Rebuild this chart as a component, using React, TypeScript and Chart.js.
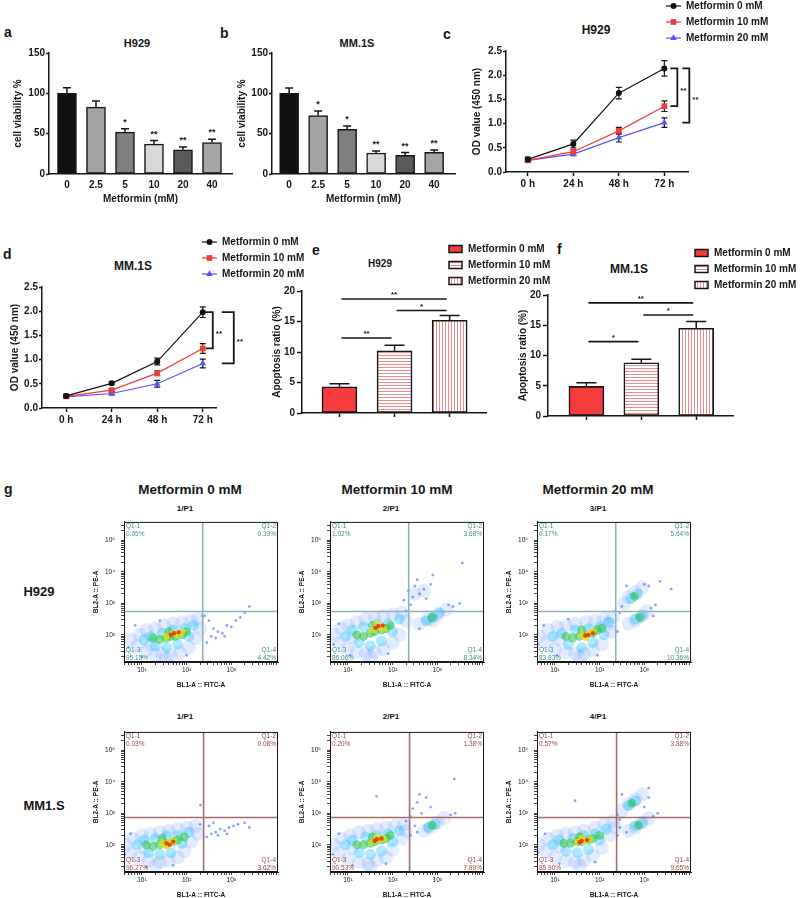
import { useEffect, useRef } from 'react'
import { Chart, registerables } from 'chart.js'

Chart.register(...registerables)

const FONT = '"Liberation Sans", Arial, Helvetica, sans-serif'
const INK = '#161616'
Chart.defaults.font.family = FONT
Chart.defaults.color = INK

type Pt = [number, number]

// ---------- a, b: cell viability ----------
const doses = ['0', '2.5', '5', '10', '20', '40']
const viabilityH929 = [100, 83, 52, 37, 30, 39]
const viabilityH929Err = [7, 7.5, 4, 4.5, 3.5, 4]
const viabilityH929Sig = ['', '', '*', '**', '**', '**']
const viabilityMM1S = [100, 72.5, 55.5, 26, 23, 27]
const viabilityMM1SErr = [6.5, 5.5, 4, 2.5, 3.5, 2.7]
const viabilityMM1SSig = ['', '*', '*', '**', '**', '**']

// ---------- c, d: OD450 growth ----------
const hours = ['0 h', '24 h', '48 h', '72 h']
const groups = ['Metformin 0 mM', 'Metformin 10 mM', 'Metformin 20 mM']
const odH929_0 = [0.26, 0.58, 1.63, 2.14]
const odH929_10 = [0.24, 0.42, 0.85, 1.36]
const odH929_20 = [0.24, 0.37, 0.71, 1.02]
const odH929_0Err = [0.05, 0.08, 0.12, 0.16]
const odH929_10Err = [0.04, 0.04, 0.07, 0.11]
const odH929_20Err = [0.04, 0.03, 0.09, 0.1]
const odMM1S_0 = [0.25, 0.51, 0.96, 1.98]
const odMM1S_10 = [0.24, 0.37, 0.72, 1.23]
const odMM1S_20 = [0.23, 0.3, 0.5, 0.92]
const odMM1S_0Err = [0.03, 0.03, 0.07, 0.11]
const odMM1S_10Err = [0.03, 0.03, 0.05, 0.1]
const odMM1S_20Err = [0.03, 0.03, 0.07, 0.09]
const growthSig: [number, number, string][] = [[0, 1, '**'], [0, 2, '**']]

// ---------- e, f: apoptosis ratio ----------
const apoptosisH929 = [4.3, 10.2, 15.2]
const apoptosisH929Err = [0.5, 0.9, 0.8]
const apoptosisH929Sig: [number, number, number, string][] = [[0, 1, 12.3, '**'], [1, 2, 16.8, '*'], [0, 2, 18.7, '**']]
const apoptosisMM1S = [4.9, 8.8, 14.5]
const apoptosisMM1SErr = [0.6, 0.6, 1.1]
const apoptosisMM1SSig: [number, number, number, string][] = [[0, 1, 12.3, '*'], [1, 2, 16.7, '*'], [0, 2, 18.7, '**']]

// ---------- g: Annexin V-FITC / PI flow cytometry (log10 units) ----------
const flowColumnTitles = ['Metformin 0 mM', 'Metformin 10 mM', 'Metformin 20 mM']
const flowRowLabels = ['H929', 'MM1.S']
const h929Samples = ['1/P1', '2/P1', '3/P1']
const mm1sSamples = ['1/P1', '2/P1', '4/P1']
const quadNames = ['Q1-1', 'Q1-2', 'Q1-3', 'Q1-4']
const h929Quad0 = ['0.05%', '0.39%', '95.15%', '4.42%']
const h929Quad10 = ['1.92%', '3.68%', '86.06%', '8.34%']
const h929Quad20 = ['0.17%', '5.64%', '83.83%', '10.36%']
const mm1sQuad0 = ['0.03%', '0.08%', '96.27%', '3.62%']
const mm1sQuad10 = ['0.20%', '1.38%', '90.53%', '7.89%']
const mm1sQuad20 = ['0.57%', '3.88%', '85.90%', '9.65%']
const h929Gate = [2.36, 2.74]
const mm1sGate = [2.38, 2.87]
const fitcDecades = [1, 2, 3]
const peDecades = [2, 3, 4, 5]

const h929_0_halo: Pt[] = [[0.75, 1.85], [0.9, 1.65], [0.95, 2.0], [1.1, 1.5], [1.1, 2.15], [1.3, 1.35], [1.3, 2.2], [1.45, 1.4], [1.5, 2.3], [1.65, 1.35], [1.7, 2.35], [1.85, 1.45], [1.9, 2.4], [2.05, 1.6], [2.1, 2.45], [2.2, 1.9], [2.25, 2.5], [2.3, 2.2], [1.55, 1.25], [1.2, 1.7]]
const h929_0_cyan: Pt[] = [[1.05, 1.85], [1.2, 1.95], [1.3, 1.65], [1.45, 2.05], [1.55, 1.6], [1.7, 2.15], [1.8, 1.7], [1.95, 2.2], [2.05, 1.95], [2.15, 2.3]]
const h929_0_green: Pt[] = [[1.25, 1.9], [1.4, 1.85], [1.55, 1.9], [1.65, 1.95], [1.75, 1.95], [1.9, 2.0], [1.6, 2.1], [2.0, 2.1]]
const h929_0_yellow: Pt[] = [[1.55, 1.95], [1.7, 2.05], [1.8, 2.0], [1.9, 2.1]]
const h929_0_red: Pt[] = [[1.72, 2.05], [1.82, 2.08], [1.65, 2.0]]
const h929_0_sparse: Pt[] = [[2.45, 1.75], [2.55, 1.95], [2.65, 1.9], [2.7, 2.1], [2.8, 2.05], [2.9, 2.3], [3.0, 2.25], [3.1, 2.45], [3.2, 2.55], [3.3, 2.7], [2.6, 2.2], [2.85, 1.95], [3.4, 2.9], [2.4, 2.6], [2.5, 2.45], [0.7, 1.6], [0.85, 2.3], [1.0, 1.3], [1.4, 2.45], [2.0, 1.35], [2.35, 2.6]]

const h929_10_halo: Pt[] = [[0.7, 2.0], [0.8, 1.75], [0.85, 2.2], [1.0, 1.55], [1.0, 2.3], [1.2, 1.45], [1.2, 2.4], [1.4, 1.4], [1.4, 2.5], [1.6, 1.45], [1.6, 2.55], [1.8, 1.55], [1.8, 2.6], [2.0, 1.75], [2.0, 2.65], [2.15, 2.0], [2.2, 2.7], [2.3, 2.45], [1.1, 1.9], [1.5, 1.3], [2.6, 2.35], [2.8, 2.5], [3.0, 2.65], [3.2, 2.8], [2.9, 2.45], [2.5, 3.3], [2.7, 3.4]]
const h929_10_cyan: Pt[] = [[0.95, 1.95], [1.1, 2.15], [1.25, 1.75], [1.35, 2.25], [1.5, 1.65], [1.65, 2.35], [1.75, 1.8], [1.9, 2.35], [2.0, 2.1], [2.15, 2.5], [2.75, 2.45], [2.9, 2.55], [3.05, 2.7]]
const h929_10_green: Pt[] = [[1.2, 2.0], [1.35, 1.95], [1.5, 2.05], [1.6, 2.1], [1.75, 2.15], [1.85, 2.2], [1.55, 2.3], [1.95, 2.3], [2.88, 2.55]]
const h929_10_yellow: Pt[] = [[1.55, 2.15], [1.7, 2.25], [1.8, 2.2], [1.65, 2.35]]
const h929_10_red: Pt[] = [[1.68, 2.28], [1.78, 2.3], [1.62, 2.22]]
const h929_10_sparse: Pt[] = [[2.25, 3.1], [2.35, 3.4], [2.45, 3.2], [2.5, 3.55], [2.6, 3.3], [2.7, 3.45], [2.75, 3.15], [2.85, 3.6], [2.9, 3.9], [2.55, 3.75], [2.4, 2.95], [3.35, 2.9], [3.5, 3.0], [3.56, 4.28], [2.6, 2.2], [3.25, 2.95], [0.68, 1.7], [0.8, 2.35], [1.05, 1.35], [1.9, 1.4], [2.3, 2.75]]

const h929_20_halo: Pt[] = [[0.65, 1.95], [0.8, 1.75], [0.85, 2.15], [1.0, 1.55], [1.05, 2.25], [1.25, 1.45], [1.25, 2.3], [1.45, 1.4], [1.45, 2.35], [1.65, 1.4], [1.7, 2.4], [1.85, 1.5], [1.9, 2.45], [2.05, 1.7], [2.1, 2.5], [2.25, 2.1], [2.3, 2.55], [1.1, 1.85], [1.55, 1.3], [2.2, 2.35], [2.65, 2.35], [2.8, 2.45], [2.95, 2.6], [3.05, 2.75], [2.55, 3.0], [2.65, 3.2], [2.8, 3.35], [2.95, 3.5]]
const h929_20_cyan: Pt[] = [[0.95, 1.95], [1.15, 2.05], [1.3, 1.7], [1.45, 2.15], [1.6, 1.6], [1.75, 2.2], [1.85, 1.75], [2.0, 2.25], [2.1, 2.0], [2.2, 2.4], [2.8, 2.5], [2.95, 2.6], [2.7, 3.15], [2.85, 3.3]]
const h929_20_green: Pt[] = [[1.25, 1.95], [1.4, 1.9], [1.55, 1.95], [1.7, 2.0], [1.85, 2.05], [1.95, 2.15], [1.6, 2.15], [2.05, 2.2], [2.9, 2.55], [2.78, 3.22]]
const h929_20_yellow: Pt[] = [[1.6, 2.0], [1.75, 2.05], [1.85, 2.1], [1.7, 1.9]]
const h929_20_red: Pt[] = [[1.75, 2.0], [1.85, 2.05], [1.68, 1.98]]
const h929_20_sparse: Pt[] = [[2.4, 2.1], [2.45, 2.7], [2.5, 2.9], [3.15, 2.85], [3.25, 2.95], [3.35, 3.7], [3.1, 3.55], [2.6, 3.55], [3.0, 3.6], [3.6, 3.45], [2.35, 2.75], [3.2, 2.6], [0.62, 1.7], [0.75, 2.3], [1.05, 1.35], [1.95, 1.35], [1.3, 2.5]]

const mm1s_0_halo: Pt[] = [[0.65, 2.0], [0.75, 1.75], [0.8, 2.2], [0.95, 1.6], [1.0, 2.3], [1.15, 1.5], [1.2, 2.35], [1.4, 1.45], [1.4, 2.4], [1.6, 1.5], [1.6, 2.45], [1.8, 1.6], [1.8, 2.5], [1.95, 1.8], [2.0, 2.55], [2.1, 2.1], [2.2, 2.6], [1.05, 1.9], [1.3, 1.35], [2.25, 2.35]]
const mm1s_0_cyan: Pt[] = [[0.9, 2.0], [1.05, 2.15], [1.15, 1.75], [1.3, 2.2], [1.4, 1.7], [1.55, 2.3], [1.65, 1.75], [1.8, 2.3], [1.9, 2.05], [2.05, 2.4]]
const mm1s_0_green: Pt[] = [[1.1, 2.0], [1.25, 1.95], [1.4, 2.0], [1.55, 2.05], [1.7, 2.1], [1.8, 2.15], [1.45, 2.2], [1.95, 2.25]]
const mm1s_0_yellow: Pt[] = [[1.45, 2.05], [1.6, 2.1], [1.72, 2.12], [1.55, 1.95]]
const mm1s_0_red: Pt[] = [[1.55, 2.05], [1.7, 2.1], [1.62, 2.0]]
const mm1s_0_sparse: Pt[] = [[2.45, 2.25], [2.55, 2.35], [2.65, 2.4], [2.75, 2.5], [2.85, 2.45], [2.95, 2.55], [3.05, 2.6], [3.15, 2.65], [3.3, 2.7], [2.7, 2.3], [2.9, 2.35], [2.31, 3.26], [2.6, 2.7], [2.5, 2.6], [3.4, 2.55], [0.62, 1.7], [0.75, 2.35], [1.1, 1.3], [1.7, 1.35], [2.3, 2.65]]

const mm1s_10_halo: Pt[] = [[0.7, 2.0], [0.8, 1.75], [0.85, 2.2], [1.0, 1.55], [1.05, 2.3], [1.25, 1.45], [1.25, 2.4], [1.45, 1.4], [1.45, 2.45], [1.65, 1.5], [1.65, 2.5], [1.85, 1.6], [1.85, 2.55], [2.0, 1.85], [2.05, 2.6], [2.2, 2.2], [2.25, 2.65], [1.1, 1.9], [1.5, 1.3], [2.3, 2.45], [2.7, 2.45], [2.85, 2.55], [3.0, 2.7], [3.15, 2.85]]
const mm1s_10_cyan: Pt[] = [[0.95, 2.0], [1.1, 2.15], [1.25, 1.75], [1.4, 2.25], [1.5, 1.7], [1.65, 2.3], [1.75, 1.8], [1.9, 2.35], [2.0, 2.1], [2.15, 2.45], [2.8, 2.55], [2.95, 2.65]]
const mm1s_10_green: Pt[] = [[1.2, 2.0], [1.35, 2.0], [1.5, 2.05], [1.6, 2.1], [1.75, 2.15], [1.85, 2.2], [1.55, 2.25], [1.95, 2.3], [2.88, 2.62]]
const mm1s_10_yellow: Pt[] = [[1.55, 2.1], [1.7, 2.15], [1.8, 2.2], [1.65, 2.25]]
const mm1s_10_red: Pt[] = [[1.65, 2.18], [1.75, 2.2], [1.6, 2.12]]
const mm1s_10_sparse: Pt[] = [[2.4, 2.9], [2.45, 3.15], [2.55, 3.35], [2.65, 3.0], [2.75, 3.5], [2.85, 3.2], [2.6, 3.6], [3.38, 4.09], [1.64, 3.54], [2.4, 2.3], [2.55, 2.4], [3.3, 2.95], [3.4, 3.0], [2.5, 2.6], [0.66, 1.7], [0.8, 2.35], [1.1, 1.35], [1.85, 1.4], [2.3, 2.75]]

const mm1s_20_halo: Pt[] = [[0.65, 2.0], [0.8, 1.8], [0.85, 2.2], [1.0, 1.6], [1.05, 2.3], [1.25, 1.5], [1.25, 2.35], [1.45, 1.45], [1.45, 2.4], [1.65, 1.5], [1.65, 2.45], [1.85, 1.65], [1.9, 2.55], [2.05, 1.9], [2.1, 2.65], [2.2, 2.3], [2.3, 2.75], [1.1, 1.95], [1.55, 1.35], [2.35, 2.55], [2.65, 2.45], [2.8, 2.55], [2.95, 2.7], [3.1, 2.85], [2.5, 3.1], [2.65, 3.3], [2.8, 3.45], [2.95, 3.6]]
const mm1s_20_cyan: Pt[] = [[0.95, 2.0], [1.1, 2.15], [1.25, 1.8], [1.4, 2.2], [1.5, 1.75], [1.65, 2.3], [1.75, 1.85], [1.9, 2.35], [2.0, 2.15], [2.15, 2.5], [2.8, 2.6], [2.95, 2.7], [2.65, 3.25], [2.8, 3.4]]
const mm1s_20_green: Pt[] = [[1.2, 2.05], [1.35, 2.05], [1.5, 2.1], [1.6, 2.1], [1.75, 2.15], [1.85, 2.2], [1.55, 2.25], [2.0, 2.3], [2.87, 2.62], [2.72, 3.32]]
const mm1s_20_yellow: Pt[] = [[1.5, 2.1], [1.65, 2.12], [1.78, 2.18], [1.6, 2.22]]
const mm1s_20_red: Pt[] = [[1.6, 2.12], [1.72, 2.15], [1.55, 2.08]]
const mm1s_20_sparse: Pt[] = [[2.4, 2.3], [2.45, 2.8], [2.5, 3.6], [3.1, 3.8], [1.45, 3.4], [3.2, 2.9], [3.3, 3.0], [3.0, 3.2], [2.6, 2.4], [3.1, 3.5], [2.45, 2.55], [0.62, 1.75], [0.78, 2.35], [1.1, 1.4], [1.9, 1.45], [2.4, 2.95]]

// ---------- helpers ----------
const bold = (size: number) => ({ family: FONT, size, weight: 'bold' as const })

function ChartBox({ area, pad, make }: { area: number[]; pad: number[]; make: () => any }) {
  const ref = useRef<HTMLCanvasElement>(null)
  const [l, t, r, b] = area
  const [pl, pt, pr, pb] = pad
  const w = r - l + pl + pr
  const h = b - t + pt + pb

  useEffect(() => {
    if (!ref.current) return
    const cfg = make()
    cfg.options.responsive = false
    cfg.options.animation = false
    cfg.options.events = []
    cfg.options.layout = { padding: { left: 0, top: pt, right: pr, bottom: 0 } }
    cfg.options.scales.x.afterFit = (s: any) => { s.height = pb }
    cfg.options.scales.y.afterFit = (s: any) => { s.width = pl }
    const chart = new Chart(ref.current, cfg)
    return () => chart.destroy()
  }, [])

  return <canvas ref={ref} width={w} height={h} style={{ position: 'absolute', left: l - pl, top: t - pt }} />
}

function Txt({ x, y, size, children, center = false, weight = 700 }: any) {
  return (
    <div style={{
      position: 'absolute', left: x, top: y, fontSize: size, fontWeight: weight, lineHeight: 1,
      whiteSpace: 'pre', transform: center ? 'translate(-50%, -50%)' : 'translate(0, -50%)',
    }}>{children}</div>
  )
}

function valueAxis(min: number, max: number, step: number, title: string, fmt?: (v: number) => string, tick = 3, pad = 1) {
  return {
    type: 'linear', min, max,
    ticks: { stepSize: step, color: INK, font: bold(10), padding: pad, callback: fmt ? (v: any) => fmt(Number(v)) : undefined },
    grid: { drawOnChartArea: false, drawTicks: true, tickLength: tick, tickWidth: 1.5, tickColor: INK },
    border: { color: INK, width: 1.5 },
    title: { display: true, text: title, color: INK, font: bold(10), padding: 0 },
  }
}

function indexAxis(labels: string[], min: number, max: number, o: { marks: boolean; text: boolean; pad: number; title?: string }) {
  return {
    type: 'linear', min, max, offset: false,
    afterBuildTicks: (s: any) => { s.ticks = labels.map((_, i) => ({ value: i })) },
    ticks: { autoSkip: false, maxRotation: 0, color: INK, font: bold(10), padding: o.pad, callback: (v: any) => (o.text ? labels[v] ?? '' : '') },
    grid: { display: o.marks, drawTicks: o.marks, offset: false, drawOnChartArea: false, tickLength: 4, tickWidth: 1.5, tickColor: INK },
    border: { color: INK, width: 1.5 },
    title: o.title ? { display: true, text: o.title, color: INK, font: bold(10), padding: 0 } : { display: false },
  }
}

function errorBars(errs: number[][], o: { both: boolean; cap: number; width: number; before?: boolean }) {
  const draw = (chart: any) => {
    const { ctx, scales: { x, y } } = chart
    ctx.save()
    ctx.strokeStyle = INK
    ctx.lineWidth = o.width
    chart.data.datasets.forEach((ds: any, di: number) => {
      ds.data.forEach((p: any, i: number) => {
        const e = errs[di][i]
        const cx = x.getPixelForValue(p.x)
        const yt = y.getPixelForValue(p.y + e)
        const yb = y.getPixelForValue(o.both ? p.y - e : p.y)
        ctx.beginPath()
        ctx.moveTo(cx, yb)
        ctx.lineTo(cx, yt)
        ctx.moveTo(cx - o.cap / 2, yt)
        ctx.lineTo(cx + o.cap / 2, yt)
        if (o.both) {
          ctx.moveTo(cx - o.cap / 2, yb)
          ctx.lineTo(cx + o.cap / 2, yb)
        }
        ctx.stroke()
      })
    })
    ctx.restore()
  }
  return o.before ? { id: 'errorBarsBefore', beforeDatasetsDraw: draw } : { id: 'errorBars', afterDatasetsDraw: draw }
}

function starLabels(labels: string[], errs: number[]) {
  return {
    id: 'starLabels',
    afterDatasetsDraw(chart: any) {
      const { ctx, scales: { x, y } } = chart
      ctx.save()
      ctx.fillStyle = INK
      ctx.font = `bold 9px ${FONT}`
      ctx.textAlign = 'center'
      ctx.textBaseline = 'alphabetic'
      chart.data.datasets[0].data.forEach((p: any, i: number) => {
        if (labels[i]) ctx.fillText(labels[i], x.getPixelForValue(p.x), y.getPixelForValue(p.y + errs[i]) - 4)
      })
      ctx.restore()
    },
  }
}

function brackets(pairs: [number, number, string][], geom: number[][]) {
  return {
    id: 'brackets',
    afterDraw(chart: any) {
      const { ctx, scales: { x, y } } = chart
      const last = hours.length - 1
      const px = x.getPixelForValue(last)
      ctx.save()
      ctx.strokeStyle = INK
      ctx.fillStyle = INK
      ctx.lineWidth = 1.8
      ctx.font = `bold 8px ${FONT}`
      ctx.textBaseline = 'alphabetic'
      pairs.forEach(([a, b, label], k) => {
        const [dx, serif] = geom[k]
        const ya = y.getPixelForValue(chart.data.datasets[a].data[last].y)
        const yb = y.getPixelForValue(chart.data.datasets[b].data[last].y)
        const bx = px + dx
        ctx.beginPath()
        ctx.moveTo(bx - serif, ya)
        ctx.lineTo(bx, ya)
        ctx.lineTo(bx, yb)
        ctx.lineTo(bx - serif, yb)
        ctx.stroke()
        ctx.fillText(label, bx + 3, (ya + yb) / 2 + 6)
      })
      ctx.restore()
    },
  }
}

function sigLines(pairs: [number, number, number, string][]) {
  return {
    id: 'sigLines',
    afterDraw(chart: any) {
      const { ctx, scales: { x, y } } = chart
      ctx.save()
      ctx.strokeStyle = INK
      ctx.fillStyle = INK
      ctx.lineWidth = 1.6
      ctx.font = `bold 8px ${FONT}`
      ctx.textAlign = 'center'
      ctx.textBaseline = 'alphabetic'
      pairs.forEach(([a, b, v, label]) => {
        const xa = x.getPixelForValue(a) + 2
        const xb = x.getPixelForValue(b) - 3
        const yy = y.getPixelForValue(v)
        ctx.beginPath()
        ctx.moveTo(xa, yy)
        ctx.lineTo(xb, yy)
        ctx.stroke()
        ctx.fillText(label, (xa + xb) / 2, yy - 1.5)
      })
      ctx.restore()
    },
  }
}

function marker(ctx: CanvasRenderingContext2D, style: string, x: number, y: number, r: number, color: string) {
  ctx.fillStyle = color
  ctx.beginPath()
  if (style === 'circle') ctx.arc(x, y, r, 0, Math.PI * 2)
  else if (style === 'rect') {
    const s = r * Math.SQRT1_2
    ctx.rect(x - s, y - s, 2 * s, 2 * s)
  } else {
    let a = 0
    ctx.moveTo(x + Math.sin(a) * r, y - Math.cos(a) * r)
    a += (2 * Math.PI) / 3
    ctx.lineTo(x + Math.sin(a) * r, y - Math.cos(a) * r)
    a += (2 * Math.PI) / 3
    ctx.lineTo(x + Math.sin(a) * r, y - Math.cos(a) * r)
    ctx.closePath()
  }
  ctx.fill()
}

function groupLegend(kind: 'line' | 'box', dx: number, dy: number) {
  return {
    id: 'groupLegend',
    afterDraw(chart: any) {
      const { ctx, chartArea } = chart
      ctx.save()
      ctx.font = `bold 10px ${FONT}`
      ctx.textBaseline = 'middle'
      groups.forEach((g, k) => {
        const x0 = chartArea.left + dx
        const y0 = chartArea.top + dy + k * 16
        if (kind === 'line') {
          const ds = chart.data.datasets[k]
          ctx.strokeStyle = ds.borderColor
          ctx.lineWidth = 1.2
          ctx.beginPath()
          ctx.moveTo(x0, y0)
          ctx.lineTo(x0 + 15, y0)
          ctx.stroke()
          marker(ctx, ds.pointStyle, x0 + 7.5, y0, ds.pointRadius, ds.backgroundColor)
          ctx.fillStyle = INK
          ctx.fillText(g, x0 + 20, y0 + 0.5)
        } else {
          const ds = chart.data.datasets[0]
          ctx.fillStyle = ds.backgroundColor[k]
          ctx.fillRect(x0, y0 - 3.5, 13, 7)
          ctx.strokeStyle = INK
          ctx.lineWidth = 1.5
          ctx.strokeRect(x0, y0 - 3.5, 13, 7)
          ctx.fillStyle = INK
          ctx.fillText(g, x0 + 19, y0 + 0.5)
        }
      })
      ctx.restore()
    },
  }
}

// ---------- chart configs ----------
const doseFills = ['#111111', '#a3a3a3', '#7f7f7f', '#d9d9d9', '#5a5a5a', '#a6a6a6']

function viabilityChart(values: number[], errs: number[], sig: string[], xMin: number, xMax: number) {
  return {
    type: 'bar',
    data: {
      datasets: [{
        data: values.map((v, i) => ({ x: i, y: v })),
        backgroundColor: doseFills, borderColor: INK, borderWidth: 1.5, borderSkipped: false, barThickness: 19,
      }],
    },
    options: {
      plugins: { legend: { display: false }, tooltip: { enabled: false } },
      scales: {
        x: indexAxis(doses, xMin, xMax, { marks: false, text: true, pad: 5, title: 'Metformin (mM)' }),
        y: valueAxis(0, 150, 50, 'cell viability %'),
      },
    },
    plugins: [errorBars([errs], { both: false, cap: 8, width: 1.5 }), starLabels(sig, errs)],
  }
}

const seriesStyles = [
  { color: '#111111', point: 'circle', r: 3 },
  { color: '#f23b3b', point: 'rect', r: 4 },
  { color: '#5454ff', point: 'triangle', r: 3.8 },
]

function growthChart(series: number[][], errs: number[][], xMin: number, xMax: number, geom: number[][]) {
  return {
    type: 'line',
    data: {
      datasets: series.map((s, k) => ({
        label: groups[k],
        data: s.map((v, i) => ({ x: i, y: v })),
        borderColor: seriesStyles[k].color, backgroundColor: seriesStyles[k].color, borderWidth: 1.2,
        pointStyle: seriesStyles[k].point, pointRadius: seriesStyles[k].r, pointBorderWidth: 0, tension: 0,
      })),
    },
    options: {
      plugins: { legend: { display: false }, tooltip: { enabled: false } },
      scales: {
        x: indexAxis(hours, xMin, xMax, { marks: true, text: true, pad: 2 }),
        y: valueAxis(0, 2.5, 0.5, 'OD value (450 nm)', (v) => v.toFixed(1)),
      },
    },
    plugins: [errorBars(errs, { both: true, cap: 6, width: 1.2, before: true }), brackets(growthSig, geom), groupLegend('line', 160, -45)],
  }
}

function stripes(dir: 'h' | 'v') {
  const c = document.createElement('canvas')
  c.width = 3
  c.height = 3
  const g = c.getContext('2d')!
  g.fillStyle = '#ffffff'
  g.fillRect(0, 0, 3, 3)
  g.fillStyle = '#f08c8c'
  if (dir === 'h') g.fillRect(0, 0, 3, 1)
  else g.fillRect(0, 0, 1, 3)
  return g.createPattern(c, 'repeat')
}

function apoptosisChart(values: number[], errs: number[], sig: [number, number, number, string][], xMin: number, xMax: number) {
  return {
    type: 'bar',
    data: {
      datasets: [{
        data: values.map((v, i) => ({ x: i, y: v })),
        backgroundColor: ['#f43c3c', stripes('h'), stripes('v')],
        borderColor: INK, borderWidth: 1.6, borderSkipped: false, barThickness: 35,
      }],
    },
    options: {
      plugins: { legend: { display: false }, tooltip: { enabled: false } },
      scales: {
        x: indexAxis(groups, xMin, xMax, { marks: true, text: false, pad: 0 }),
        y: valueAxis(0, 20, 5, 'Apoptosis ratio (%)', undefined, 5, 2),
      },
    },
    plugins: [errorBars([errs], { both: false, cap: 20, width: 1.5 }), sigLines(sig), groupLegend('box', 147, -42)],
  }
}

const supers: Record<number, string> = { 1: '10¹', 2: '10²', 3: '10³', 4: '10⁴', 5: '10⁵' }

function logTicks(min: number, max: number) {
  const out: { value: number }[] = []
  for (let n = Math.floor(min); n <= Math.ceil(max); n++) {
    for (let k = 1; k < 10; k++) {
      const v = n + Math.log10(k)
      if (v >= min && v <= max) out.push({ value: v })
    }
  }
  return out
}

function logAxis(min: number, max: number, title: string, pad: number, decades: number[]) {
  return {
    type: 'linear', min, max,
    afterBuildTicks: (s: any) => { s.ticks = logTicks(min, max) },
    ticks: {
      autoSkip: false, maxRotation: 0, color: INK, font: { family: FONT, size: 6.5 }, padding: pad,
      callback: (v: any) => {
        const n = Math.round(v)
        return Math.abs(v - n) < 1e-6 && decades.includes(n) ? supers[n] : ''
      },
    },
    grid: { drawOnChartArea: false, tickLength: 3, tickWidth: 0.8, tickColor: INK },
    border: { color: INK, width: 1 },
    title: { display: true, text: title, color: INK, font: bold(6.5), padding: 0 },
  }
}

function flowFrame(gate: number[], quad: string[], lineColor: string, textColor: string) {
  return {
    id: 'flowFrame',
    afterDatasetsDraw(chart: any) {
      const { ctx, chartArea: a, scales: { x, y } } = chart
      const gx = x.getPixelForValue(gate[0])
      const gy = y.getPixelForValue(gate[1])
      ctx.save()
      ctx.strokeStyle = lineColor
      ctx.lineWidth = 1.6
      ctx.beginPath()
      ctx.moveTo(gx, a.top)
      ctx.lineTo(gx, a.bottom)
      ctx.moveTo(a.left, gy)
      ctx.lineTo(a.right, gy)
      ctx.stroke()
      ctx.strokeStyle = INK
      ctx.lineWidth = 1
      ctx.strokeRect(a.left + 0.5, a.top + 0.5, a.right - a.left - 1, a.bottom - a.top - 1)
      ctx.fillStyle = textColor
      ctx.font = `6.5px ${FONT}`
      ctx.textBaseline = 'middle'
      ctx.textAlign = 'left'
      ctx.fillText(quadNames[0], a.left + 2, a.top + 4)
      ctx.fillText(quad[0], a.left + 2, a.top + 12)
      ctx.fillText(quadNames[2], a.left + 2, a.bottom - 12)
      ctx.fillText(quad[2], a.left + 2, a.bottom - 4)
      ctx.textAlign = 'right'
      ctx.fillText(quadNames[1], a.right - 2, a.top + 4)
      ctx.fillText(quad[1], a.right - 2, a.top + 12)
      ctx.fillText(quadNames[3], a.right - 2, a.bottom - 12)
      ctx.fillText(quad[3], a.right - 2, a.bottom - 4)
      ctx.restore()
    },
  }
}

type FlowPanel = {
  row: number; col: number; name: string; quad: string[]; gate: number[]
  red: Pt[]; yellow: Pt[]; green: Pt[]; cyan: Pt[]; sparse: Pt[]; halo: Pt[]
}

const flowPanels: FlowPanel[] = [
  { row: 0, col: 0, name: h929Samples[0], quad: h929Quad0, gate: h929Gate, red: h929_0_red, yellow: h929_0_yellow, green: h929_0_green, cyan: h929_0_cyan, sparse: h929_0_sparse, halo: h929_0_halo },
  { row: 0, col: 1, name: h929Samples[1], quad: h929Quad10, gate: h929Gate, red: h929_10_red, yellow: h929_10_yellow, green: h929_10_green, cyan: h929_10_cyan, sparse: h929_10_sparse, halo: h929_10_halo },
  { row: 0, col: 2, name: h929Samples[2], quad: h929Quad20, gate: h929Gate, red: h929_20_red, yellow: h929_20_yellow, green: h929_20_green, cyan: h929_20_cyan, sparse: h929_20_sparse, halo: h929_20_halo },
  { row: 1, col: 0, name: mm1sSamples[0], quad: mm1sQuad0, gate: mm1sGate, red: mm1s_0_red, yellow: mm1s_0_yellow, green: mm1s_0_green, cyan: mm1s_0_cyan, sparse: mm1s_0_sparse, halo: mm1s_0_halo },
  { row: 1, col: 1, name: mm1sSamples[1], quad: mm1sQuad10, gate: mm1sGate, red: mm1s_10_red, yellow: mm1s_10_yellow, green: mm1s_10_green, cyan: mm1s_10_cyan, sparse: mm1s_10_sparse, halo: mm1s_10_halo },
  { row: 1, col: 2, name: mm1sSamples[2], quad: mm1sQuad20, gate: mm1sGate, red: mm1s_20_red, yellow: mm1s_20_yellow, green: mm1s_20_green, cyan: mm1s_20_cyan, sparse: mm1s_20_sparse, halo: mm1s_20_halo },
]

const rowTheme = [
  { line: '#8db5b5', text: '#3e8c8c' },
  { line: '#a46d6d', text: '#9c4646' },
]

function flowChart(p: FlowPanel) {
  const layers: [Pt[], number, string][] = [
    [p.red, 2.2, 'rgba(235,35,10,0.8)'],
    [p.yellow, 3.2, 'rgba(240,225,0,0.75)'],
    [p.green, 4.5, 'rgba(40,195,70,0.55)'],
    [p.cyan, 5.5, 'rgba(0,190,255,0.32)'],
    [p.sparse, 1.4, 'rgba(60,105,255,0.6)'],
    [p.halo, 7, 'rgba(60,110,255,0.14)'],
  ]
  return {
    type: 'scatter',
    data: {
      datasets: layers.map(([pts, r, c]) => ({
        data: pts.map(([x, y]) => ({ x, y })),
        pointRadius: r, backgroundColor: c, borderWidth: 0, pointBorderWidth: 0,
      })),
    },
    options: {
      plugins: { legend: { display: false }, tooltip: { enabled: false } },
      scales: {
        x: logAxis(0.6, 4.044, 'BL1-A :: FITC-A', 1, fitcDecades),
        y: logAxis(1.138, 5.585, 'BL2-A :: PE-A', 6, peDecades),
      },
    },
    plugins: [flowFrame(p.gate, p.quad, rowTheme[p.row].line, rowTheme[p.row].text)],
  }
}

const flowLeft = [124, 330, 537]
const flowTop = [518, 728]
const flowTitleY = [509, 717]
const flowHeaderX = [190, 397, 598]

export default function App() {
  return (
    <div style={{ position: 'fixed', left: 0, top: 0, width: 800, height: 898, background: '#fff', color: INK, fontFamily: FONT, overflow: 'hidden' }}>
      <Txt x={4} y={32} size={14}>a</Txt>
      <Txt x={220} y={33} size={14}>b</Txt>
      <Txt x={443} y={34} size={14}>c</Txt>
      <Txt x={3} y={254} size={14}>d</Txt>
      <Txt x={312} y={250} size={14}>e</Txt>
      <Txt x={557} y={249} size={14}>f</Txt>
      <Txt x={4} y={489} size={14}>g</Txt>

      <Txt x={137} y={43} size={11} center>H929</Txt>
      <Txt x={357} y={43} size={11} center>MM.1S</Txt>
      <Txt x={596} y={30} size={12} center>H929</Txt>
      <Txt x={133} y={266} size={12} center>MM.1S</Txt>
      <Txt x={380} y={264} size={10} center>H929</Txt>
      <Txt x={629} y={269} size={12} center>MM.1S</Txt>

      <ChartBox area={[49, 53, 232, 174]} pad={[37, 10, 6, 31]} make={() => viabilityChart(viabilityH929, viabilityH929Err, viabilityH929Sig, -0.62, 5.69)} />
      <ChartBox area={[272, 53, 455, 174]} pad={[36, 10, 6, 31]} make={() => viabilityChart(viabilityMM1S, viabilityMM1SErr, viabilityMM1SSig, -0.59, 5.72)} />
      <ChartBox area={[506, 51, 688, 172]} pad={[35, 51, 100, 22]} make={() => growthChart([odH929_0, odH929_10, odH929_20], [odH929_0Err, odH929_10Err, odH929_20Err], -0.48, 3.52, [[13, 7], [25, 7]])} />
      <ChartBox area={[42, 287, 216, 408]} pad={[33, 52, 95, 22]} make={() => growthChart([odMM1S_0, odMM1S_10, odMM1S_20], [odMM1S_0Err, odMM1S_10Err, odMM1S_20Err], -0.53, 3.29, [[10, 7], [31, 12]])} />
      <ChartBox area={[302, 291, 486, 413]} pad={[31, 50, 72, 8]} make={() => apoptosisChart(apoptosisH929, apoptosisH929Err, apoptosisH929Sig, -0.68, 2.66)} />
      <ChartBox area={[548, 295, 733, 416]} pad={[31, 50, 67, 8]} make={() => apoptosisChart(apoptosisMM1S, apoptosisMM1SErr, apoptosisMM1SSig, -0.7, 2.67)} />

      {flowColumnTitles.map((t, i) => (
        <Txt key={t} x={flowHeaderX[i]} y={490} size={13.5} center>{t}</Txt>
      ))}
      <Txt x={39} y={591} size={13} center>{flowRowLabels[0]}</Txt>
      <Txt x={44} y={805} size={13} center>{flowRowLabels[1]}</Txt>

      {flowPanels.map((p) => {
        const l = flowLeft[p.col]
        const t = flowTop[p.row]
        return (
          <div key={`${p.row}-${p.col}`}>
            <Txt x={l + 61} y={flowTitleY[p.row]} size={8} center>{p.name}</Txt>
            <ChartBox area={[l, t, l + 155, t + 144]} pad={[32, 6, 6, 27]} make={() => flowChart(p)} />
          </div>
        )
      })}
    </div>
  )
}
